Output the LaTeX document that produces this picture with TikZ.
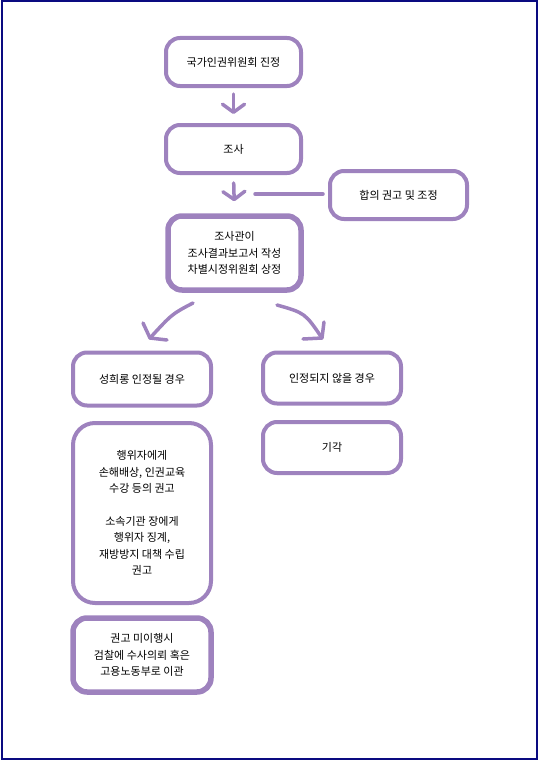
\documentclass[tikz,border=0pt]{standalone}
\usepackage{fontspec}
\setmainfont{Noto Sans CJK KR}
\usetikzlibrary{arrows.meta}
\definecolor{lav}{HTML}{9E82BE}
\definecolor{frame}{HTML}{0A0A80}
\tikzset{
  box/.style={draw=lav, line width=4pt, rounded corners=14pt, fill=white,
    align=center, font=\fontsize{11}{16.5}\selectfont, inner sep=0pt},
  boxthick/.style={box, line width=5.5pt},
  arr/.style={draw=lav, line width=3.5pt, line cap=round,
    -{Straight Barb[length=8pt,width=22pt,round]}},
  conn/.style={draw=lav, line width=3.5pt, line cap=round, line join=round},
}
\begin{document}
\begin{tikzpicture}[x=1pt,y=-1pt]
\useasboundingbox (0,0) rectangle (538,760);
\draw[frame, line width=2pt] (1.5,1.5) rectangle (536.5,758.5);

\node[box, minimum width=135pt, minimum height=48pt] (b1) at (233.5,62) {국가인권위원회 진정};
\node[box, minimum width=135pt, minimum height=48pt] (b2) at (233.5,149) {조사};
\node[box, minimum width=137pt, minimum height=48pt] (b3) at (398.5,195) {합의 권고 및 조정};
\node[boxthick, minimum width=133pt, minimum height=74pt] (b4) at (234.5,253) {조사관이\\조사결과보고서 작성\\차별시정위원회 상정};
\node[box, minimum width=138pt, minimum height=53pt] (b5) at (142,379) {성희롱 인정될 경우};
\node[box, minimum width=138pt, minimum height=51pt] (b6) at (332,378) {인정되지 않을 경우};
\node[box, minimum width=138pt, minimum height=180pt, rounded corners=22pt] (b7) at (142,513) {행위자에게\\손해배상, 인권교육\\수강 등의 권고\\[16pt]소속기관 장에게\\행위자 징계,\\재방방지 대책 수립\\권고};
\node[box, minimum width=138pt, minimum height=51pt] (b8) at (332,447.5) {기각};
\node[boxthick, minimum width=138pt, minimum height=74pt] (b9) at (142,655) {권고 미이행시\\검찰에 수사의뢰 혹은\\고용노동부로 이관};

\draw[arr, shorten <=6pt, shorten >=9pt] (b1.south) -- (b2.north);
\draw[arr, shorten <=8pt, shorten >=12pt] (b2.south) -- (b4.north);
\coordinate (j) at (255,194);
\draw[conn, shorten >=5pt] (j) -- (b3.west |- j);

% left diagonal arrow
\coordinate (l0) at (193,303);
\coordinate (l1) at (150,338);
\coordinate (la) at (143,323);
\coordinate (lb) at (167,340);
\draw[conn] (l0) .. controls (172,314) .. (l1);
\draw[conn] (la) -- (l1) -- (lb);
% right diagonal arrow
\coordinate (r0) at (277,305);
\coordinate (r1) at (322,338);
\coordinate (ra) at (324,322);
\coordinate (rb) at (303,339);
\draw[conn] (r0) .. controls (305,313) .. (r1);
\draw[conn] (ra) -- (r1) -- (rb);
\end{tikzpicture}
\end{document}
